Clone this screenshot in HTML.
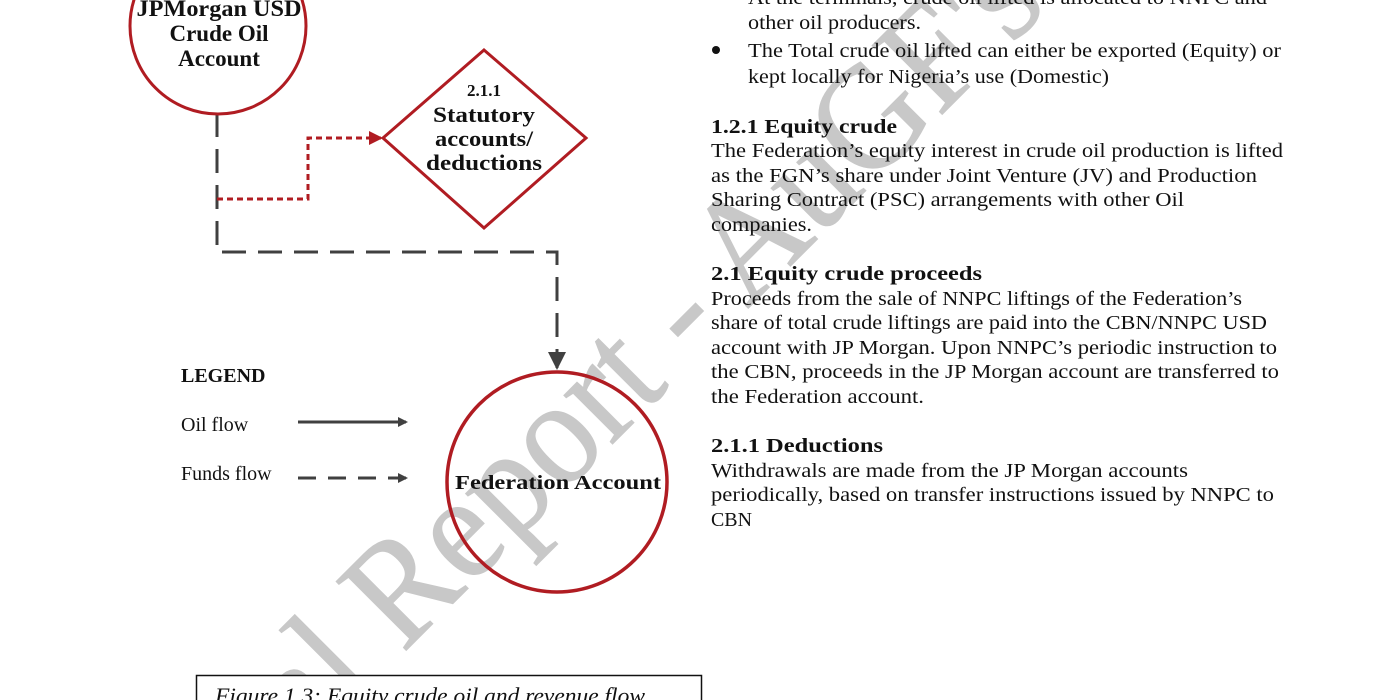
<!DOCTYPE html>
<html><head><meta charset="utf-8"><style>
html,body{margin:0;padding:0;background:#fff;width:1400px;height:700px;overflow:hidden}
svg{display:block}
.t{font-family:"Liberation Serif",serif;font-size:20px;fill:#111}
.b{font-weight:bold}
</style></head><body>
<svg width="1400" height="700" viewBox="0 0 1400 700" xmlns="http://www.w3.org/2000/svg">
<defs>
<marker id="ag" markerWidth="10" markerHeight="10" refX="8" refY="5" orient="auto" markerUnits="userSpaceOnUse"><path d="M0,0 L10,5 L0,10 z" fill="#404040"/></marker>
<marker id="ar" markerWidth="14" markerHeight="14" refX="12" refY="7" orient="auto" markerUnits="userSpaceOnUse"><path d="M0,0 L14,7 L0,14 z" fill="#b01c22"/></marker>
<marker id="ad" markerWidth="18" markerHeight="18" refX="16" refY="9" orient="auto" markerUnits="userSpaceOnUse"><path d="M0,0 L18,9 L0,18 z" fill="#404040"/></marker>
</defs>
<!-- watermark -->
<text x="650" y="390" transform="rotate(-45 650 350)" text-anchor="middle" font-family="Liberation Serif,serif" font-size="150" fill="#c8c8c8" stroke="#c8c8c8" stroke-width="1" textLength="1050" lengthAdjust="spacingAndGlyphs">al Report - AuGF's</text>

<!-- connectors -->
<path d="M217,113 V252 H557 V368" fill="none" stroke="#404040" stroke-width="3" stroke-dasharray="24,12" marker-end="url(#ad)"/>
<path d="M217,199 H308 V138 H381" fill="none" stroke="#b01c22" stroke-width="3" stroke-dasharray="6,4" marker-end="url(#ar)"/>

<!-- nodes -->
<circle cx="218" cy="26" r="88" fill="#fff" stroke="#b01c22" stroke-width="3"/>
<g class="t b" text-anchor="middle" style="font-size:23px">
<text x="219" y="16" textLength="165" lengthAdjust="spacingAndGlyphs">JPMorgan USD</text>
<text x="219" y="41">Crude Oil</text>
<text x="219" y="66">Account</text>
</g>
<polygon points="484,50 586,138 484,228 383,138" fill="#fff" stroke="#b01c22" stroke-width="3"/>
<g class="t b" text-anchor="middle">
<text x="484" y="96" style="font-size:17px">2.1.1</text>
<text x="484" y="122" style="font-size:22px" textLength="102" lengthAdjust="spacingAndGlyphs">Statutory</text>
<text x="484" y="146" style="font-size:22px" textLength="98" lengthAdjust="spacingAndGlyphs">accounts/</text>
<text x="484" y="170" style="font-size:22px" textLength="116" lengthAdjust="spacingAndGlyphs">deductions</text>
</g>
<circle cx="557" cy="482" r="110" fill="none" stroke="#b01c22" stroke-width="3.5"/>
<text class="t b" x="558" y="489" text-anchor="middle" textLength="206" lengthAdjust="spacingAndGlyphs">Federation Account</text>

<!-- legend -->
<text class="t b" x="181" y="382">LEGEND</text>
<text class="t" x="181" y="431">Oil flow</text>
<text class="t" x="181" y="480">Funds flow</text>
<line x1="298" y1="422" x2="406" y2="422" stroke="#404040" stroke-width="3" marker-end="url(#ag)"/>
<line x1="298" y1="478" x2="406" y2="478" stroke="#404040" stroke-width="3" stroke-dasharray="18,12" marker-end="url(#ag)"/>

<!-- caption -->
<rect x="196.5" y="675.5" width="505" height="30" fill="#fff" stroke="#111" stroke-width="1.5"/>
<text x="215" y="703" font-family="Liberation Serif,serif" font-style="italic" font-size="22" fill="#111" textLength="430" lengthAdjust="spacingAndGlyphs">Figure 1.3: Equity crude oil and revenue flow</text>

<!-- right text -->
<g class="t">
<text x="748" y="4" textLength="519" lengthAdjust="spacingAndGlyphs">At the terminals, crude oil lifted is allocated to NNPC and</text>
<text x="748" y="29" textLength="173" lengthAdjust="spacingAndGlyphs">other oil producers.</text>
<circle cx="716" cy="50" r="4" fill="#111"/>
<text x="748" y="57" textLength="533" lengthAdjust="spacingAndGlyphs">The Total crude oil lifted can either be exported (Equity) or</text>
<text x="748" y="83" textLength="361" lengthAdjust="spacingAndGlyphs">kept locally for Nigeria’s use (Domestic)</text>
<text class="b" x="711" y="133" textLength="186" lengthAdjust="spacingAndGlyphs">1.2.1 Equity crude</text>
<text x="711" y="157" textLength="572" lengthAdjust="spacingAndGlyphs">The Federation’s equity interest in crude oil production is lifted</text>
<text x="711" y="182" textLength="546" lengthAdjust="spacingAndGlyphs">as the FGN’s share under Joint Venture (JV) and Production</text>
<text x="711" y="206" textLength="473" lengthAdjust="spacingAndGlyphs">Sharing Contract (PSC) arrangements with other Oil</text>
<text x="711" y="231" textLength="101" lengthAdjust="spacingAndGlyphs">companies.</text>
<text class="b" x="711" y="280" textLength="271" lengthAdjust="spacingAndGlyphs">2.1 Equity crude proceeds</text>
<text x="711" y="305" textLength="531" lengthAdjust="spacingAndGlyphs">Proceeds from the sale of NNPC liftings of the Federation’s</text>
<text x="711" y="329" textLength="556" lengthAdjust="spacingAndGlyphs">share of total crude liftings are paid into the CBN/NNPC USD</text>
<text x="711" y="354" textLength="566" lengthAdjust="spacingAndGlyphs">account with JP Morgan. Upon NNPC’s periodic instruction to</text>
<text x="711" y="378" textLength="568" lengthAdjust="spacingAndGlyphs">the CBN, proceeds in the JP Morgan account are transferred to</text>
<text x="711" y="403" textLength="213" lengthAdjust="spacingAndGlyphs">the Federation account.</text>
<text class="b" x="711" y="452" textLength="172" lengthAdjust="spacingAndGlyphs">2.1.1 Deductions</text>
<text x="711" y="477" textLength="477" lengthAdjust="spacingAndGlyphs">Withdrawals are made from the JP Morgan accounts</text>
<text x="711" y="501" textLength="563" lengthAdjust="spacingAndGlyphs">periodically, based on transfer instructions issued by NNPC to</text>
<text x="711" y="526" textLength="41" lengthAdjust="spacingAndGlyphs">CBN</text>
</g>
</svg>
</body></html>
